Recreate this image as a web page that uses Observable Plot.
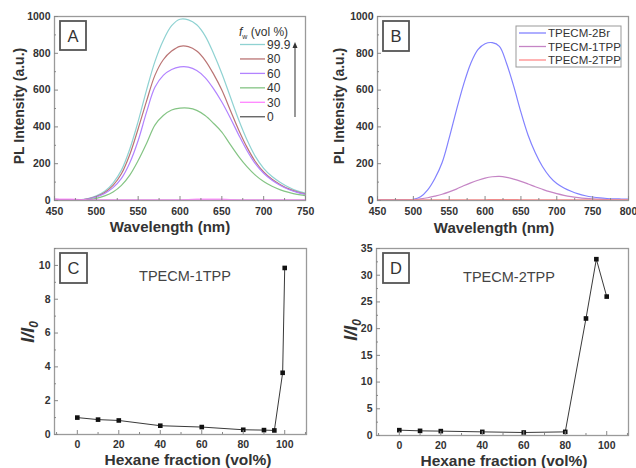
<!DOCTYPE html>
<html><head><meta charset="utf-8">
<script src="https://cdn.jsdelivr.net/npm/d3@7"></script>
<script src="https://cdn.jsdelivr.net/npm/@observablehq/plot@0.6"></script>
<style>
body{margin:0;background:#fff;}
#wrap{position:relative;width:636px;height:468px;font-family:"Liberation Sans",Arial,sans-serif;}
.panel{position:absolute;}
</style></head><body><div id="wrap"></div>
<script>
// ---------- Panel A data ----------
const wlA = [450,460,470,480,490,500,510,520,530,540,550,560,570,580,590,600,610,620,630,640,650,660,670,680,690,700,710,720,730,740,750];
const fw999 = [6,5,4,3,10,25,50,95,165,280,430,600,755,870,950,985,982,955,895,800,690,565,440,330,240,175,130,98,72,52,40];
const fw80  = [6,5,4,3,9,22,44,82,145,250,390,540,680,765,812,838,836,812,762,688,600,492,385,290,212,155,115,86,63,47,36];
const fw60  = [6,5,4,3,8,19,38,70,120,205,326,480,615,680,712,726,725,706,668,608,535,450,358,272,200,148,110,82,60,44,33];
const fw40  = [5,4,3,2,5,12,25,46,82,138,217,310,410,462,492,502,502,490,462,420,372,305,240,184,138,103,77,58,44,33,26];
const fw30  = [7,7,6,4,3,2,2,2,2,2,2,2,3,3,3,3,4,6,6,6,6,4,3,3,3,3,3,3,3,3,3];
const fw0   = [5,5,4,3,2,1,1,1,1,1,1,1,1,1,1,1,1,1,1,1,1,1,1,1,1,1,1,1,1,1,1];
const seriesA = ["99.9","80","60","40","30","0"];
const colorsA = ["#8fd2d2","#ba7474","#b283ff","#84c484","#ff85ff","#5a5a5a"];
const valuesA = [fw999, fw80, fw60, fw40, fw30, fw0];

// ---------- Panel B data ----------
const wlB = [450,460,470,480,490,500,510,520,530,540,550,560,570,580,590,600,610,620,630,640,650,660,670,680,690,700,710,720,730,740,750,760,770,780,790,800];
const b2Br  = [5,5,5,5,5,6,20,58,120,205,340,490,630,745,820,852,858,838,745,620,480,355,260,185,130,92,68,50,36,26,19,14,11,9,8,7];
const b1TPP = [2,2,2,2,3,5,9,15,24,34,47,62,80,96,110,122,129,131,126,116,104,90,75,61,48,37,28,21,16,12,9,7,5,4,3,3];
const b2TPP = [3,3,3,3,3,3,3,3,3,3,3,3,3,4,4,4,5,5,5,5,4,4,3,3,3,3,3,3,3,3,3,3,3,3,3,3];
const seriesB = ["TPECM-2Br","TPECM-1TPP","TPECM-2TPP"];
const colorsB = ["#8282ff","#c585c5","#ff8a8a"];
const valuesB = [b2Br, b1TPP, b2TPP];

// ---------- Panel C / D data ----------
const hexC = [0,10,20,40,60,80,90,95,99,100];
const ratioC = [1.0,0.88,0.83,0.52,0.44,0.28,0.26,0.24,3.65,9.85];
const hexD = [0,10,20,40,60,80,90,95,100];
const ratioD = [1.0,0.87,0.82,0.68,0.56,0.68,21.9,33.0,26.0];

// tick labels
const ticksAx = [450,500,550,600,650,700,750];
const minorAx = [475,525,575,625,675,725];
const ticksBx = [450,500,550,600,650,700,750,800];
const minorBx = [475,525,575,625,675,725,775];
const ticksPLy = [0,200,400,600,800,1000];
const minorPLy = [100,300,500,700,900];
const ticksHx = [0,20,40,60,80,100];
const minorHx = [-10,10,30,50,70,90,110];
const ticksCy = [0,2,4,6,8,10];
const minorCy = [1,3,5,7,9,11];
const ticksDy = [0,5,10,15,20,25,30,35];
const minorDy = [2.5,7.5,12.5,17.5,22.5,27.5,32.5];

const FONT = "Liberation Sans, Arial, sans-serif";
const TXT = "#333";

function axes(xT, xM, yT, yM, xpad) {
  const lab = {fontSize: 10.5, fontWeight: "bold", fill: TXT, label: null, tickSize: 0, tickFormat: d => String(d)};
  return [
    Plot.axisX(xT, {...lab, tickPadding: xpad}),
    Plot.axisY(yT, {...lab, tickPadding: 4}),
    Plot.axisX(xT, {tickSize: -4, fill: "none", stroke: "#888", label: null}),
    Plot.axisX(xM, {tickSize: -2, fill: "none", stroke: "#888", label: null}),
    Plot.axisY(yT, {tickSize: -4, fill: "none", stroke: "#888", label: null}),
    Plot.axisY(yM, {tickSize: -2, fill: "none", stroke: "#888", label: null})
  ];
}

function makePanel(o) {
  const svg = Plot.plot({
    width: o.width, height: o.height,
    marginLeft: o.ml, marginRight: o.mr, marginTop: o.mt, marginBottom: o.mb,
    style: {fontFamily: FONT, background: "transparent", overflow: "visible"},
    x: {domain: o.xd, axis: null},
    y: {domain: o.yd, axis: null},
    marks: [...o.marks, Plot.frame({stroke: "#9a9a9a", strokeWidth: 1.3}), ...axes(o.xT, o.xM, o.yT, o.yM, o.xpad)]
  });
  svg.classList.add("panel");
  svg.style.left = o.left + "px";
  svg.style.top = o.top + "px";
  document.getElementById("wrap").appendChild(svg);
  return d3.select(svg);
}

function txt(s, x, y, anchor, fs) {
  return s.append("text").attr("x", x).attr("y", y).attr("text-anchor", anchor)
    .attr("font-size", fs).attr("fill", TXT).attr("font-family", FONT);
}
function labelBox(s, x, y, w, h, t) {
  s.append("rect").attr("x", x).attr("y", y).attr("width", w).attr("height", h)
    .attr("fill", "white").attr("stroke", "#555").attr("stroke-width", 1.8);
  txt(s, x + w/2, y + h/2 + 6, "middle", 16.5).text(t);
}
function xTitle(s, x, y, t, fs) {
  txt(s, x, y, "middle", fs).attr("font-weight", "bold").text(t);
}
function yTitle(s, x, y, t) {
  s.append("text").attr("transform", `translate(${x},${y}) rotate(-90)`).attr("text-anchor", "middle")
    .attr("dy", "0.35em").attr("font-size", 14).attr("font-weight", "bold").attr("fill", TXT).attr("font-family", FONT).text(t);
}
function ratioTitle(s, x, y) {
  const t = s.append("text").attr("transform", `translate(${x},${y}) rotate(-90)`).attr("text-anchor", "middle")
    .attr("dy", "0.35em").attr("font-size", 18).attr("font-weight", "bold").attr("font-style", "italic")
    .attr("fill", TXT).attr("font-family", FONT);
  t.append("tspan").text("I/I");
  t.append("tspan").attr("font-size", 12).attr("dy", 4).text("0");
}

// ---------- Panel A ----------
const marksA = [];
valuesA.forEach((vals, i) => {
  const rows = wlA.map((w, j) => ({w, v: vals[j]}));
  marksA.push(Plot.line(rows, {x: "w", y: "v", stroke: colorsA[i], strokeWidth: i === 4 ? 1.6 : 1.2, strokeOpacity: i === 4 ? 0.85 : 1, curve: "catmull-rom"}));
});
const mA = [marksA[0], marksA[1], marksA[2], marksA[3], marksA[5], marksA[4]];
const sA = makePanel({left: 0, top: 0, width: 318, height: 234, ml: 54, mr: 13, mt: 16, mb: 34, xpad: 7,
  xd: [450, 750], yd: [0, 1000], xT: ticksAx, xM: minorAx, yT: ticksPLy, yM: minorPLy, marks: mA});
labelBox(sA, 60, 21, 26, 29, "A");
yTitle(sA, 19, 106, "PL Intensity (a.u.)");
xTitle(sA, 170, 232, "Wavelength (nm)", 15);
{
  const h = txt(sA, 239, 36, "start", 12);
  h.append("tspan").attr("font-style", "italic").text("f");
  h.append("tspan").attr("font-size", 7).attr("dy", 3).text("w");
  h.append("tspan").attr("dy", -3).text(" (vol %)");
  seriesA.forEach((name, i) => {
    const y = 44.5 + 14.45 * i;
    sA.append("line").attr("x1", 240).attr("x2", 265).attr("y1", y).attr("y2", y)
      .attr("stroke", colorsA[i]).attr("stroke-width", 1.3);
    txt(sA, 267, y + 4.3, "start", 12).text(name);
  });
  sA.append("line").attr("x1", 295).attr("x2", 295).attr("y1", 117).attr("y2", 46)
    .attr("stroke", "#444").attr("stroke-width", 1.1);
  sA.append("path").attr("d", "M295,42 L292.5,48 L297.5,48 Z").attr("fill", "#333");
}

// ---------- Panel B ----------
const marksB = [];
[0, 1, 2].forEach(i => {
  const rows = wlB.map((w, j) => ({w, v: valuesB[i][j]}));
  marksB.push(Plot.line(rows, {x: "w", y: "v", stroke: colorsB[i], strokeWidth: 1.2, curve: "catmull-rom"}));
});
const sB = makePanel({left: 318, top: 0, width: 318, height: 234, ml: 59, mr: 8, mt: 16, mb: 34, xpad: 7,
  xd: [450, 800], yd: [0, 1000], xT: ticksBx, xM: minorBx, yT: ticksPLy, yM: minorPLy, marks: marksB});
labelBox(sB, 65, 21, 26, 30, "B");
yTitle(sB, 21, 106, "PL Intensity (a.u.)");
xTitle(sB, 176, 233, "Wavelength (nm)", 15);
{
  sB.append("rect").attr("x", 198).attr("y", 26).attr("width", 105).attr("height", 41)
    .attr("fill", "white").attr("stroke", "#999").attr("stroke-width", 1);
  seriesB.forEach((name, i) => {
    const y = 33 + 13.5 * i;
    sB.append("line").attr("x1", 201).attr("x2", 228).attr("y1", y).attr("y2", y)
      .attr("stroke", colorsB[i]).attr("stroke-width", 1.3);
    txt(sB, 230, y + 4, "start", 11.5).text(name);
  });
}

// ---------- Panel C ----------
const rowsC = hexC.map((h, i) => ({h, r: ratioC[i]}));
const sC = makePanel({left: 0, top: 234, width: 318, height: 234, ml: 54, mr: 12, mt: 14, mb: 34, xpad: 6,
  xd: [-11, 110.5], yd: [0, 11], xT: ticksHx, xM: minorHx, yT: ticksCy, yM: minorCy,
  marks: [
    Plot.line(rowsC, {x: "h", y: "r", stroke: "#222", strokeWidth: 0.9}),
    Plot.dot(rowsC, {x: "h", y: "r", symbol: "square", r: 2.6, fill: "#111"})
  ]});
labelBox(sC, 60, 19, 27, 30, "C");
txt(sC, 185, 47, "middle", 14.5).attr("fill", "#444").text("TPECM-1TPP");
ratioTitle(sC, 28, 98);
xTitle(sC, 188, 231, "Hexane fraction (vol%)", 15.5);

// ---------- Panel D ----------
const rowsD = hexD.map((h, i) => ({h, r: ratioD[i]}));
const sD = makePanel({left: 318, top: 234, width: 318, height: 234, ml: 58, mr: 8, mt: 14, mb: 33, xpad: 6,
  xd: [-11, 110.5], yd: [0, 35], xT: ticksHx, xM: minorHx, yT: ticksDy, yM: minorDy,
  marks: [
    Plot.line(rowsD, {x: "h", y: "r", stroke: "#222", strokeWidth: 0.9}),
    Plot.dot(rowsD, {x: "h", y: "r", symbol: "square", r: 2.6, fill: "#111"})
  ]});
labelBox(sD, 65, 19, 26, 30, "D");
txt(sD, 191, 48, "middle", 14.5).attr("fill", "#444").text("TPECM-2TPP");
ratioTitle(sD, 33, 96);
xTitle(sD, 186, 232, "Hexane fraction (vol%)", 15.5);
</script>
</body></html>
